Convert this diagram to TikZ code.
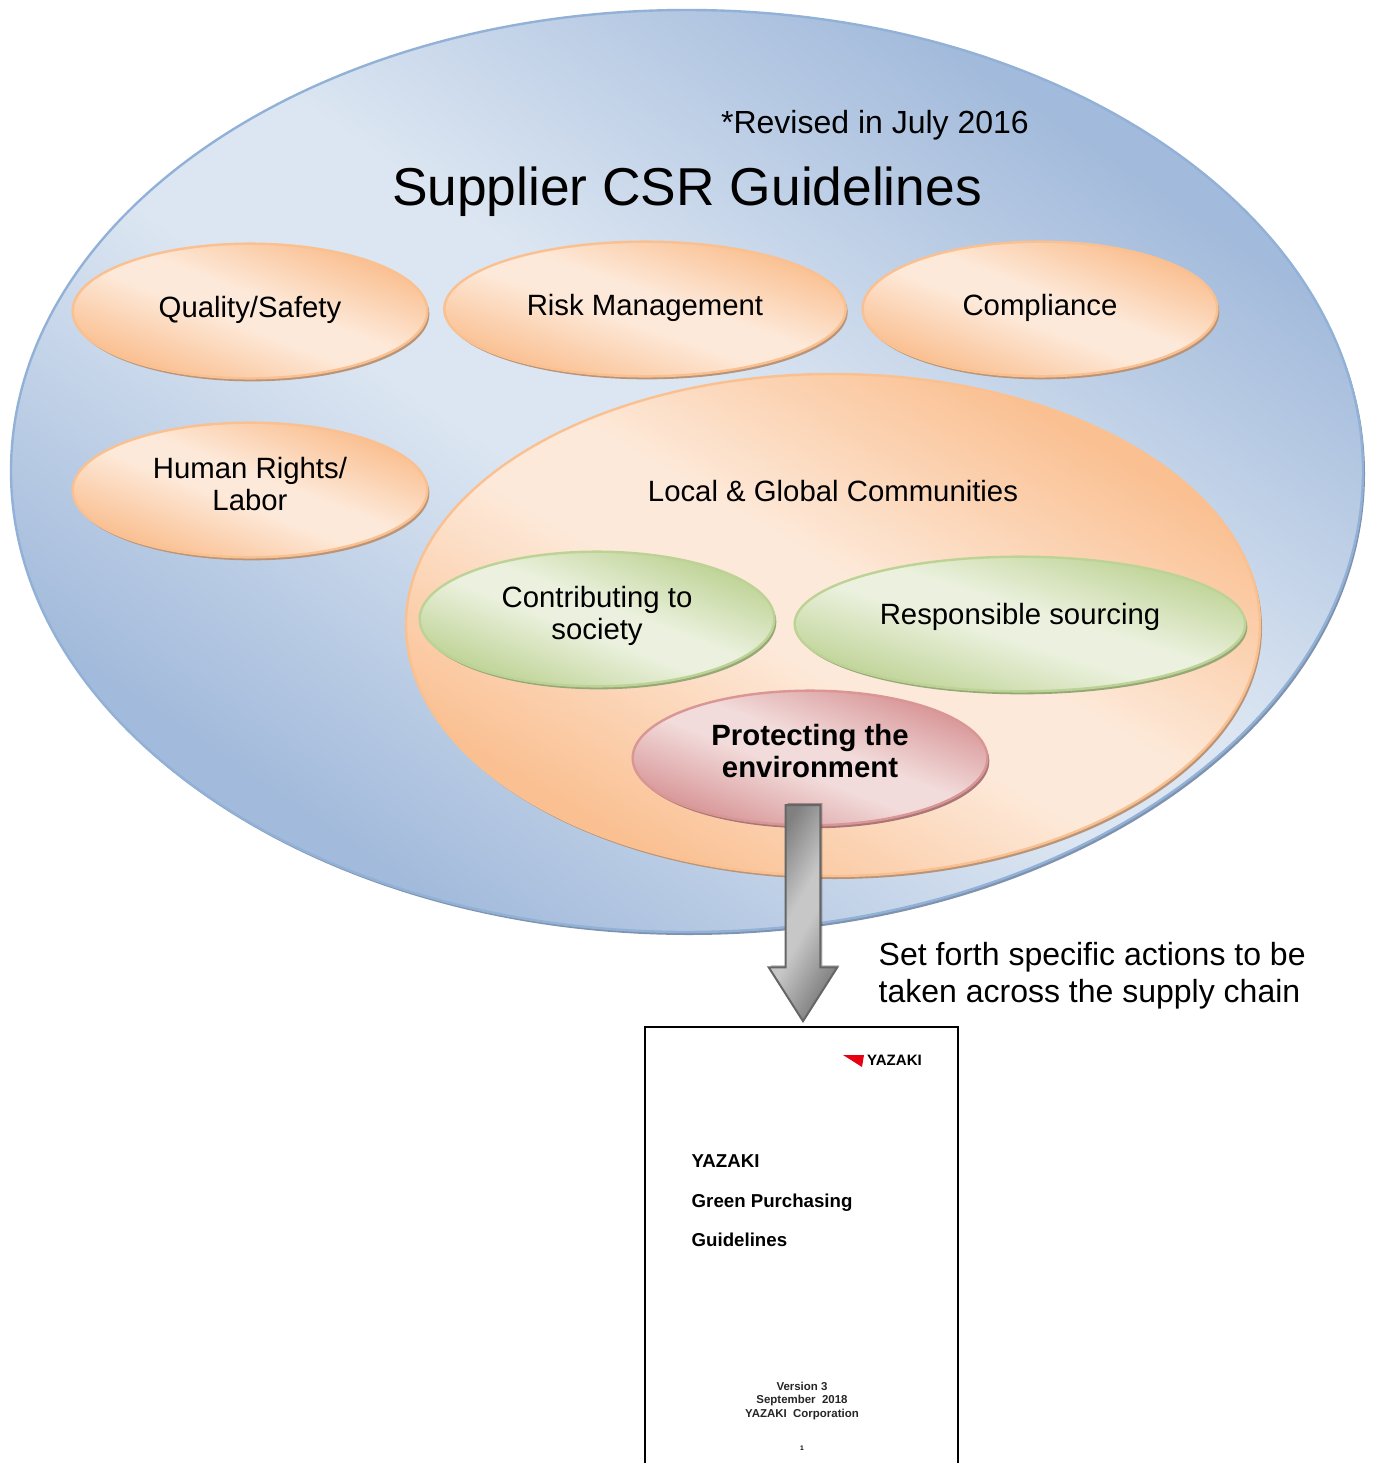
\documentclass[tikz,border=0pt]{standalone}
\usepackage{fontspec}
\setmainfont{Liberation Sans}
\usetikzlibrary{shapes.geometric,shapes.arrows,shadows}
\definecolor{bluelight}{HTML}{DCE6F2}
\definecolor{bluedark}{HTML}{A2BADB}
\definecolor{blueline}{HTML}{92B1D7}
\definecolor{blueshadow}{HTML}{7F93AE}
\definecolor{orangelight}{HTML}{FDE9D9}
\definecolor{orangedark}{HTML}{FAC092}
\definecolor{orangeline}{HTML}{FAC08F}
\definecolor{orangeshadow}{HTML}{B8957A}
\definecolor{greenlight}{HTML}{EBF1DE}
\definecolor{greendark}{HTML}{C0D498}
\definecolor{greenline}{HTML}{BDD396}
\definecolor{greenshadow}{HTML}{96A878}
\definecolor{pinklight}{HTML}{F2DCDB}
\definecolor{pinkdark}{HTML}{D9989A}
\definecolor{pinkline}{HTML}{D99694}
\definecolor{pinkshadow}{HTML}{A87678}
\definecolor{yazakired}{HTML}{E60012}
\pgfdeclareverticalshading{blueshade}{100bp}{color(0bp)=(bluedark);color(27bp)=(bluedark);color(46bp)=(bluelight);color(54bp)=(bluelight);color(73bp)=(bluedark);color(100bp)=(bluedark)}
\pgfdeclareverticalshading{orangeshade}{100bp}{color(0bp)=(orangedark);color(27bp)=(orangedark);color(46bp)=(orangelight);color(54bp)=(orangelight);color(73bp)=(orangedark);color(100bp)=(orangedark)}
\pgfdeclareverticalshading{greenshade}{100bp}{color(0bp)=(greendark);color(27bp)=(greendark);color(46bp)=(greenlight);color(54bp)=(greenlight);color(73bp)=(greendark);color(100bp)=(greendark)}
\pgfdeclareverticalshading{pinkshade}{100bp}{color(0bp)=(pinkdark);color(27bp)=(pinkdark);color(46bp)=(pinklight);color(54bp)=(pinklight);color(73bp)=(pinkdark);color(100bp)=(pinkdark)}
\pgfdeclareverticalshading{greyshade}{100bp}{color(0bp)=(black!50);color(26bp)=(black!50);color(46bp)=(black!22);color(54bp)=(black!22);color(74bp)=(black!50);color(100bp)=(black!50)}
\tikzset{
  oval/.style={ellipse, line width=1.8pt, shade, shading angle=-21,
    drop shadow={shadow xshift=1.5pt, shadow yshift=-2.25pt, opacity=1, fill=#1}},
  blueoval/.style={oval=blueshadow, draw=blueline, shading=blueshade},
  orangeoval/.style={oval=orangeshadow, draw=orangeline, shading=orangeshade},
  greenoval/.style={oval=greenshadow, draw=greenline, shading=greenshade},
  pinkoval/.style={oval=pinkshadow, draw=pinkline, shading=pinkshade},
  smalloval/.style={minimum width=266pt, minimum height=101pt},
  ovaltext/.style={align=center, font=\fontsize{22}{24}\selectfont},
  doctext/.style={anchor=west, font=\fontsize{14}{16}\bfseries\selectfont},
  foottext/.style={align=center, text=black!85, font=\fontsize{8.6}{10}\bfseries\selectfont}
}
\begin{document}
\begin{tikzpicture}[x=0.75pt, y=-0.75pt]
\useasboundingbox (0,0) rectangle (1375,1463);

\node [blueoval, shading angle=-34, minimum width=1014pt, minimum height=691.5pt] (guidelines) at (687,471) {};
\node [font=\fontsize{24}{28}\selectfont] (revised) at (875,125) {*Revised in July 2016};
\node [font=\fontsize{40}{44}\selectfont] (title) at (687,192) {Supplier CSR Guidelines};

\node [orangeoval, smalloval] (quality) at (250,311) {};
\node [orangeoval, smalloval] (human) at (250,490) {};
\node [orangeoval, smalloval, minimum width=301pt, shading angle=-19] (risk) at (645,309) {};
\node [orangeoval, smalloval] (compliance) at (1040,309) {};
\node [orangeoval, minimum width=640.5pt, minimum height=376.5pt, shading angle=-30] (local) at (833,625) {};
\node [greenoval, smalloval] (society) at (597,619) {};
\node [greenoval, smalloval, minimum width=338pt, shading angle=-17] (sourcing) at (1020,624) {};
\node [pinkoval, smalloval] (environment) at (810,758) {};

\node [ovaltext] (qualitytext) at (250,310) {Quality/Safety};
\node [ovaltext] (humantext) at (250,484) {Human Rights/\\Labor};
\node [ovaltext] (risktext) at (645,308) {Risk Management};
\node [ovaltext] (compliancetext) at (1040,308) {Compliance};
\node [ovaltext] (localtext) at (833,491) {Local \& Global Communities};
\node [ovaltext] (societytext) at (597,616) {Contributing to\\society};
\node [ovaltext] (sourcingtext) at (1020,617) {Responsible sourcing};
\node [ovaltext, font=\fontsize{22}{24}\bfseries\selectfont] (environmenttext) at (810,751) {Protecting the\\environment};

\node [single arrow, rotate=-90, anchor=tip, draw=black!60, line width=1.5pt,
  minimum height=162pt, inner xsep=0pt, inner ysep=12.25pt, single arrow head extend=12.75pt, single arrow tip angle=65,
  shade, shading=greyshade, shading angle=60,
  drop shadow={shadow xshift=1.5pt, shadow yshift=1.5pt, opacity=.3, fill=black}] (actions) at (803,1023) {};
\node [anchor=west, align=left, font=\fontsize{24}{27.75}\selectfont] (actionstext) at (874,976) {Set forth specific actions to be\\taken across the supply chain};

\draw [line width=1.5pt] (645,1464)--(645,1027)--(958,1027)--(958,1464);
\fill [yazakired] (843,1055)--(864,1055)--(862,1067)--(851,1060)--cycle;
\node [inner sep=0pt, font=\fontsize{11.3}{12}\bfseries\selectfont] (logo) at (894.5,1060) {YAZAKI};
\node [doctext] (doc1) at (687,1161) {YAZAKI};
\node [doctext] (doc2) at (687,1203) {Green Purchasing};
\node [doctext] (doc3) at (687,1240) {Guidelines};
\node [foottext] (footer) at (802,1401) {Version 3\\September\ \ 2018\\YAZAKI\ \ Corporation};
\node [font=\fontsize{5}{6}\bfseries\selectfont] (pageno) at (802,1448) {1};
\end{tikzpicture}
\end{document}
